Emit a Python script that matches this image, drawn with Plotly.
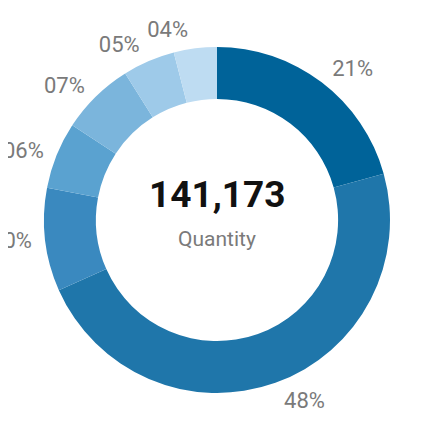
import plotly.graph_objects as go

# slice data, clockwise from 12 o'clock
categories = ["A", "B", "C", "D", "E", "F", "G"]
quantities = [29200, 67300, 13600, 8800, 9700, 6900, 5673]
slice_colors = ["#006399", "#1f76aa", "#3a89bf", "#5aa2d0", "#7bb5dc", "#9ecae9", "#bedcf2"]

total_label = "141,173"
center_caption = "Quantity"

fig = go.Figure()

# invisible, slightly larger rings that only carry the outside labels, so they
# sit a bit further from the donut. The last label gets its own ring so plotly
# doesn't nudge it away from its neighbour and draw a leader line.
n = len(categories)
label_sets = [['outside'] * (n - 1) + ['none'], ['none'] * (n - 1) + ['outside']]
for positions in label_sets:
    fig.add_trace(go.Pie(labels=categories,
                         values=quantities,
                         hole=0.9,
                         sort=False,
                         direction='clockwise',
                         rotation=0,
                         automargin=False,
                         domain=dict(x=[0, 1], y=[0, 1]),
                         textposition=positions,
                         texttemplate='%{percent:03.0%}',
                         textfont=dict(family='Roboto', size=22, color='#7a7a7a'),
                         marker=dict(colors=['rgba(0,0,0,0)'] * n, line=dict(width=0)),
                         hoverinfo='skip',
                         showlegend=False))

# the visible donut
fig.add_trace(go.Pie(labels=categories,
                     values=quantities,
                     hole=0.70,
                     sort=False,
                     direction='clockwise',
                     rotation=0,
                     automargin=False,
                     domain=dict(x=[7 / 360, 353 / 360], y=[7 / 360, 353 / 360]),
                     textinfo='none',
                     marker=dict(colors=slice_colors, line=dict(width=0)),
                     showlegend=False))

fig.add_annotation(x=0.5, y=0.572, xref='paper', yref='paper', yanchor='middle',
                   text="<b>" + total_label + "</b>", showarrow=False,
                   font=dict(family='Roboto', size=37, color='#111111'))
fig.add_annotation(x=0.5, y=0.448, xref='paper', yref='paper', yanchor='middle',
                   text=center_caption, showarrow=False,
                   font=dict(family='Roboto', size=21, color='#7a7a7a'))

fig.update_layout(width=430, height=425,
                  margin=dict(l=29, r=41, t=32, b=33),
                  paper_bgcolor='white', plot_bgcolor='white')

fig.write_html("out.html")
